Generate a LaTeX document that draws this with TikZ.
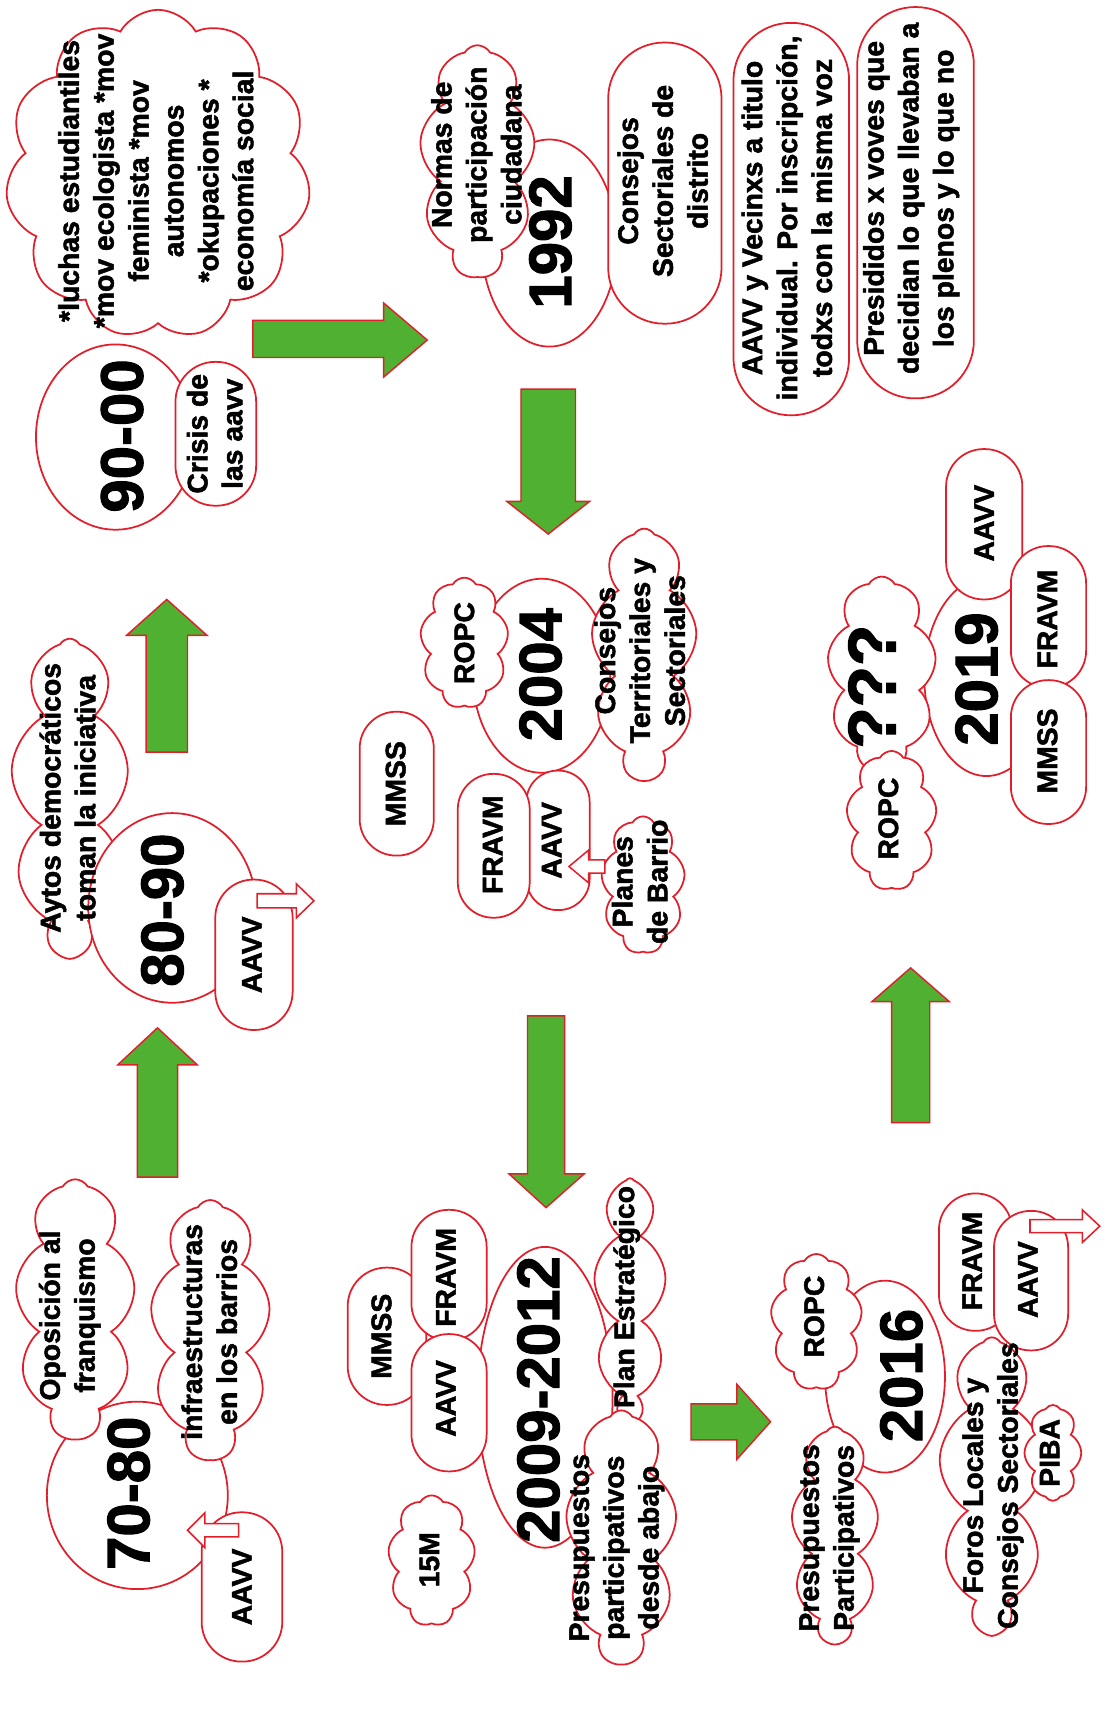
\documentclass[tikz,border=0pt]{standalone}
\usepackage{fontspec}
\setmainfont{Liberation Sans}[BoldFeatures={FakeBold=1.8}]
\usetikzlibrary{shapes.geometric,shapes.symbols}
\definecolor{rline}{RGB}{226,30,42}
\definecolor{gfill}{RGB}{80,176,50}
\tikzset{
  ol/.style={draw=rline, line width=1.6pt, fill=white},
  yearell/.style={ol, ellipse, inner sep=0pt},
  puff/.style={ol, cloud, cloud puffs=#1, cloud puff arc=120, cloud ignores aspect, inner sep=0pt},
  puff/.default=9,
  pill/.style={ol, rectangle, rounded corners=#1, inner sep=0pt},
  lbl/.style={rotate=90, align=center, font=\bfseries\fontsize{26}{32}\selectfont, inner sep=0pt},
  yr/.style={rotate=90, font=\bfseries\fontsize{55}{60}\selectfont, inner sep=0pt},
  bigarr/.style={draw=rline, line width=1.3pt, fill=gfill, line join=miter},
  smallarr/.style={draw=rline, line width=1.4pt, fill=white, line join=miter},
}
\begin{document}
\begin{tikzpicture}[x=1pt, y=-1pt]
\useasboundingbox (0,0) rectangle (1014,1568);
\fill[white] (0,0) rectangle (1014,1568);

% ---------- 90-00 ----------
\node[puff=11, minimum width=280pt, minimum height=302pt] (cLuchas) at (145,160) {};
\node[yearell, minimum width=146pt, minimum height=170pt] (e90) at (106,401) {};
\node[pill=36.5pt, minimum width=74pt, minimum height=132pt] (bCrisis) at (198,398) {};

% ---------- 1992 ----------
\node[yearell, minimum width=124pt, minimum height=190pt] (e92) at (504,223) {};
\node[puff=9, minimum width=106pt, minimum height=213pt] (cNormas) at (438,148) {};
\node[pill=51.5pt, minimum width=104pt, minimum height=258pt] (bConsS) at (610,168) {};
\node[pill=52.5pt, minimum width=106pt, minimum height=360pt] (bAAVVV) at (726,201) {};
\node[pill=53pt, minimum width=107pt, minimum height=359pt] (bPres) at (840,186) {};

% ---------- 80-90 ----------
\node[puff=9, minimum width=108pt, minimum height=290pt] (cAytos) at (64,731) {};
\node[yearell, minimum width=154pt, minimum height=174pt] (e80) at (158,833) {};
\node[pill=35pt, minimum width=71pt, minimum height=138pt] (bAAVV80) at (233,876) {};

% ---------- 70-80 ----------
\node[yearell, minimum width=166pt, minimum height=172pt] (e70) at (126,1372) {};
\node[puff=9, minimum width=110pt, minimum height=238pt] (cOpos) at (69,1201) {};
\node[puff=9, minimum width=110pt, minimum height=238pt] (cInfra) at (193,1220) {};
\node[pill=36.5pt, minimum width=74pt, minimum height=137pt] (bAAVV70) at (222,1456) {};

% ---------- 2004 ----------
\node[yearell, minimum width=126pt, minimum height=178pt] (e04) at (497,620) {};
\node[puff=9, minimum width=81pt, minimum height=120pt] (cROPC04) at (426,590) {};
\node[puff=9, minimum width=97pt, minimum height=230pt] (cConsT) at (591,600) {};
\node[pill=33.5pt, minimum width=68pt, minimum height=132pt] (bMMSS04) at (364,719) {};
\node[pill=28.5pt, minimum width=58pt, minimum height=128pt] (bAAVV04) at (512,771) {};
\node[pill=32.5pt, minimum width=66pt, minimum height=132pt] (bFRAVM04) at (453,776) {};
\node[puff=9, minimum width=77pt, minimum height=126pt] (cPlanes) at (590,812) {};

% ---------- 2009-2012 ----------
\node[yearell, minimum width=124pt, minimum height=276pt] (e09) at (500,1282) {};
\node[pill=35.5pt, minimum width=72pt, minimum height=126pt] (bMMSS09) at (355,1226) {};
\node[pill=34pt, minimum width=69pt, minimum height=120pt] (bFRAVM09) at (412,1170) {};
\node[pill=34pt, minimum width=69pt, minimum height=126pt] (bAAVV09) at (412,1287) {};
\node[puff=9, minimum width=80pt, minimum height=120pt] (c15M) at (396,1432) {};
\node[puff=9, minimum width=66pt, minimum height=222pt] (cPlanE) at (578,1192) {};
\node[puff=9, minimum width=102pt, minimum height=232pt] (cPresA) at (570,1410) {};

% ---------- 2016 ----------
\node[yearell, minimum width=110pt, minimum height=176pt] (e16) at (812,1263) {};
\node[puff=9, minimum width=84pt, minimum height=125pt] (cROPC16) at (749,1213) {};
\node[puff=9, minimum width=80pt, minimum height=198pt] (cPres16) at (766,1408) {};
\node[pill=33pt, minimum width=67pt, minimum height=126pt] (bFRAVM16) at (895,1158) {};
\node[puff=9, minimum width=97pt, minimum height=270pt] (cForos) at (910,1362) {};
\node[pill=33.5pt, minimum width=68pt, minimum height=128pt] (bAAVV16) at (946,1175) {};
\node[puff=8, minimum width=52pt, minimum height=88pt] (cPIBA) at (966,1333) {};

% ---------- 2019 ----------
\node[yearell, minimum width=114pt, minimum height=182pt] (e19) at (905,621) {};
\node[puff=9, minimum width=100pt, minimum height=178pt] (cQ) at (809,618) {};
\node[puff=9, minimum width=83pt, minimum height=128pt] (cROPC19) at (818,753) {};
\node[pill=34.5pt, minimum width=70pt, minimum height=138pt] (bAAVV19) at (903,481) {};
\node[pill=34pt, minimum width=69pt, minimum height=130pt] (bFRAVM19) at (962,566) {};
\node[pill=34pt, minimum width=69pt, minimum height=132pt] (bMMSS19) at (962,690) {};

% ---------- big green arrows ----------
\draw[bigarr] (232,294) -- (352,294) -- (352,278) -- (392,312) -- (352,346) -- (352,328) -- (232,328) -- cycle;
\draw[bigarr] (478,357) -- (528,357) -- (528,460) -- (541,460) -- (503,490) -- (465,460) -- (478,460) -- cycle;
\draw[bigarr] (134,690) -- (134,583) -- (116,583) -- (153,550) -- (190,583) -- (172,583) -- (172,690) -- cycle;
\draw[bigarr] (126,1080) -- (126,977) -- (108,977) -- (144.5,943) -- (181,977) -- (163,977) -- (163,1080) -- cycle;
\draw[bigarr] (484,932) -- (518,932) -- (518,1077) -- (536,1077) -- (501,1108) -- (467,1077) -- (484,1077) -- cycle;
\draw[bigarr] (634,1288) -- (676,1288) -- (676,1270) -- (707,1304.5) -- (676,1339) -- (676,1321) -- (634,1321) -- cycle;
\draw[bigarr] (818,1030) -- (818,919) -- (800,919) -- (835.5,888) -- (871,919) -- (853,919) -- (853,1030) -- cycle;

% ---------- small outline arrows ----------
\draw[smallarr] (236,820) -- (272,820) -- (272,811) -- (288,826.5) -- (272,842) -- (272,833) -- (236,833) -- cycle;
\draw[smallarr] (219,1398) -- (188,1398) -- (188,1388) -- (172,1404) -- (188,1420) -- (188,1410) -- (219,1410) -- cycle;
\draw[smallarr] (555,789) -- (540,789) -- (540,780) -- (522,795) -- (540,810) -- (540,801) -- (555,801) -- cycle;
\draw[smallarr] (945,1119) -- (993,1119) -- (993,1110) -- (1009,1125) -- (993,1140) -- (993,1131) -- (945,1131) -- cycle;

% ---------- texts ----------
\node[lbl] (tLuchas) at (143,166) {*luchas estudiantiles\\*mov ecologista *mov\\feminista *mov\\autonomos\\*okupaciones *\\economía social};
\node[yr] (t90) at (112,400) {90-00};
\node[lbl] (tCrisis) at (197,398) {Crisis de\\las aavv};
\node[lbl] (tNormas) at (437,142) {Normas de\\participación\\ciudadana};
\node[yr] (t92) at (505,222) {1992};
\node[lbl] (tConsS) at (608,166) {Consejos\\Sectoriales de\\distrito};
\node[lbl] (tAAVVV) at (722,200) {AAVV y Vecinxs a titulo\\individual. Por inscripción,\\todxs con la misma voz};
\node[lbl] (tPres) at (836,182) {Presididos x voves que\\decidian lo que llevaban a\\los plenos y lo que no};

\node[lbl] (tAytos) at (62,732) {Aytos democráticos\\toman la iniciativa};
\node[yr] (t80) at (149,835) {80-90};
\node[lbl] (tAAVV80) at (231,876) {AAVV};

\node[lbl] (tOpos) at (64,1207) {Oposición al\\franquismo};
\node[lbl] (tInfra) at (192,1222) {infraestructuras\\en los barrios};
\node[yr] (t70) at (118,1370) {70-80};
\node[lbl] (tAAVV70) at (222,1456) {AAVV};

\node[lbl] (tROPC04) at (426,590) {ROPC};
\node[yr] (t04) at (496,619) {2004};
\node[lbl] (tConsT) at (587,597) {Consejos\\Territoriales y\\Sectoriales};
\node[lbl] (tMMSS04) at (363,719) {MMSS};
\node[lbl] (tFRAVM04) at (452,775) {FRAVM};
\node[lbl] (tAAVV04) at (506,771) {AAVV};
\node[lbl] (tPlanes) at (587,809) {Planes\\de Barrio};

\node[yr] (t09) at (494,1284) {2009-2012};
\node[lbl] (tMMSS09) at (350,1226) {MMSS};
\node[lbl] (tFRAVM09) at (409,1172) {FRAVM};
\node[lbl] (tAAVV09) at (409,1283) {AAVV};
\node[lbl] (t15M) at (394,1431) {15M};
\node[lbl] (tPlanE) at (575,1190) {Plan Estratégico};
\node[lbl] (tPresA) at (566,1420) {Presupuestos\\participativos\\desde abajo};

\node[yr] (t16) at (827,1262) {2016};
\node[lbl] (tROPC16) at (747,1208) {ROPC};
\node[lbl] (tPres16) at (761,1411) {Presupuestos\\Participativos};
\node[lbl] (tFRAVM16) at (892,1157) {FRAVM};
\node[lbl] (tAAVV16) at (943,1174) {AAVV};
\node[lbl] (tForos) at (911,1363) {Foros Locales y\\Consejos Sectoriales};
\node[lbl] (tPIBA) at (963,1333) {PIBA};

\node[yr] (t19) at (896,623) {2019};
\node[rotate=90, font=\bfseries\fontsize{62}{66}\selectfont, inner sep=0pt] (tQ) at (800,630) {???};
\node[lbl] (tROPC19) at (815,751) {ROPC};
\node[lbl] (tAAVV19) at (903,480) {AAVV};
\node[lbl] (tFRAVM19) at (961,568) {FRAVM};
\node[lbl] (tMMSS19) at (961,689) {MMSS};
\end{tikzpicture}
\end{document}
